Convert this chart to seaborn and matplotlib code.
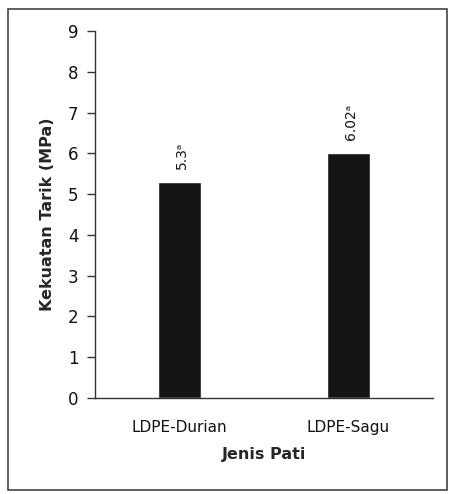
import matplotlib
matplotlib.use("Agg")
import matplotlib.pyplot as plt
import seaborn as sns
import pandas as pd
from matplotlib.patches import Rectangle

categories = ["LDPE-Durian", "LDPE-Sagu"]
values = [5.3, 6.02]
value_labels = ["5.3ᵃ", "6.02ᵃ"]
yticks = [0, 1, 2, 3, 4, 5, 6, 7, 8, 9]

sns.set_style("white")
plt.rcParams['font.family'] = ['DejaVu Sans']
plt.rcParams['text.color'] = '#111111'
plt.rcParams['xtick.color'] = '#111111'
plt.rcParams['ytick.color'] = '#111111'

df = pd.DataFrame({"Jenis Pati": categories, "Kekuatan": values})

fig = plt.figure(figsize=(4.52, 4.94), dpi=100)
ax = fig.add_axes([95/452, 1-398/494, (433-95)/452, (398-31)/494])

sns.barplot(data=df, x="Jenis Pati", y="Kekuatan", color="#141414",
            width=0.25, ax=ax, saturation=1)

ax.set_xlim(-0.5, 1.5)
ax.set_ylim(0, 9)
ax.set_yticks(yticks)
ax.set_yticklabels([str(t) for t in yticks], fontsize=12)
ax.tick_params(axis='y', left=True, length=6, width=1, color="#333333", pad=6)
ax.tick_params(axis='x', bottom=False, pad=12, labelsize=11)
for s in ["top", "right"]:
    ax.spines[s].set_visible(False)
for s in ["left", "bottom"]:
    ax.spines[s].set_color("#333333")
    ax.spines[s].set_linewidth(1)

ax.set_xlabel("Jenis Pati", fontsize=11.5, fontweight="bold", labelpad=9)
ax.set_ylabel("Kekuatan Tarik (MPa)", fontsize=11.5, fontweight="bold", labelpad=9)

for i, (v, lab) in enumerate(zip(values, value_labels)):
    ax.annotate(lab, xy=(i, v), xytext=(1.5, 9), textcoords="offset points",
                rotation=90, ha="center", va="bottom", fontsize=10)

fig.patches.append(Rectangle((8/452, 1-490/494), (447-8)/452, (490-9)/494,
                             transform=fig.transFigure, fill=False,
                             edgecolor="#444444", linewidth=1.2))

fig.savefig("out.png", dpi=100)
